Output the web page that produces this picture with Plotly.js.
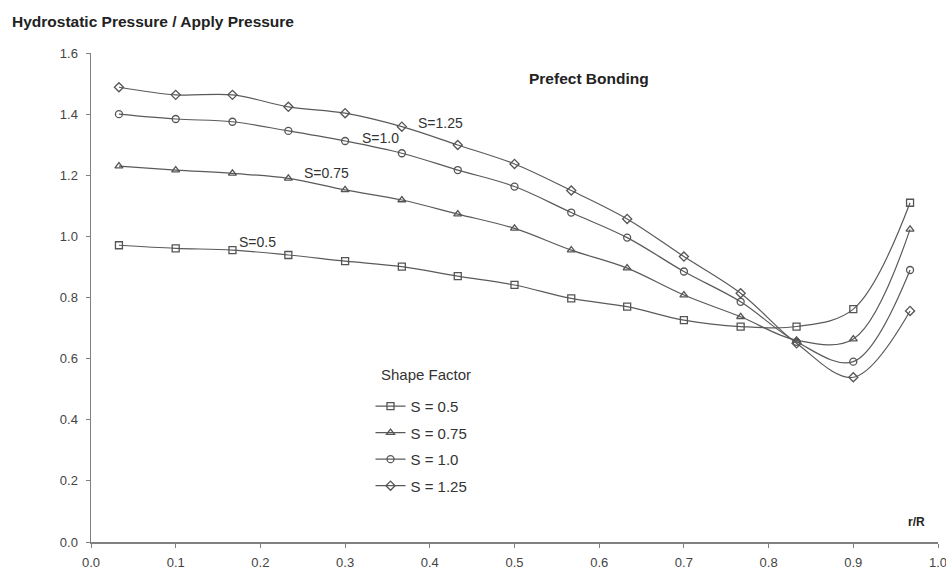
<!DOCTYPE html>
<html>
<head>
<meta charset="utf-8">
<script src="https://cdn.plot.ly/plotly-3.0.1.min.js"></script>
<style>html,body{margin:0;padding:0;background:#fff;}#chart{width:946px;height:571px;}</style>
</head>
<body>
<div id="chart"></div>
<script>
// r/R positions
const rR = [0.033, 0.1, 0.167, 0.233, 0.3, 0.367, 0.433, 0.5, 0.567, 0.633, 0.7, 0.767, 0.833, 0.9, 0.967];
// Hydrostatic Pressure / Apply Pressure, per shape factor
const s050 = [0.971, 0.961, 0.955, 0.939, 0.919, 0.901, 0.870, 0.841, 0.797, 0.770, 0.726, 0.705, 0.705, 0.762, 1.110];
const s075 = [1.230, 1.217, 1.206, 1.190, 1.152, 1.119, 1.073, 1.026, 0.955, 0.896, 0.808, 0.737, 0.660, 0.664, 1.023];
const s100 = [1.400, 1.384, 1.375, 1.345, 1.312, 1.272, 1.217, 1.163, 1.078, 0.996, 0.885, 0.786, 0.655, 0.590, 0.890];
const s125 = [1.488, 1.463, 1.463, 1.424, 1.403, 1.359, 1.299, 1.237, 1.150, 1.057, 0.934, 0.814, 0.650, 0.539, 0.756];

const seriesNames = ['S = 0.5', 'S = 0.75', 'S = 1.0', 'S = 1.25'];
const seriesValues = [s050, s075, s100, s125];
const seriesSymbols = ['square-open', 'triangle-up-open', 'circle-open', 'diamond-open'];

const curveLabels = ['S=0.5', 'S=0.75', 'S=1.0', 'S=1.25'];
const curveLabelX = [0.197, 0.278, 0.342, 0.413];
const curveLabelY = [0.982, 1.207, 1.322, 1.371];

const lineColor = '#5a5a5a';
const font = 'Liberation Sans, Arial, sans-serif';

const traces = seriesValues.map((vals, i) => ({
  x: rR, y: vals, name: seriesNames[i], type: 'scatter', mode: 'lines+markers',
  legendgroup: 'g' + i,
  line: {color: lineColor, width: 1.2, shape: 'spline', smoothing: 1},
  marker: {symbol: seriesSymbols[i], size: 7, color: '#555', line: {color: '#555', width: 1.3}}
}));

const annotations = curveLabels.map((t, i) => ({
  x: curveLabelX[i], y: curveLabelY[i], xref: 'x', yref: 'y', text: t, showarrow: false,
  font: {family: font, size: 14, color: '#333'}, xanchor: 'center', yanchor: 'middle'
}));
annotations.push({
  x: -0.0956, y: 1.0654, xref: 'paper', yref: 'paper', text: '<b>Hydrostatic Pressure / Apply Pressure</b>',
  showarrow: false, xanchor: 'left', yanchor: 'middle', font: {family: font, size: 15.5, color: '#222'}
});
annotations.push({
  x: 0.588, y: 1.515, xref: 'x', yref: 'y', text: '<b>Prefect Bonding</b>',
  showarrow: false, xanchor: 'center', yanchor: 'middle', font: {family: font, size: 15.5, color: '#222'}
});
annotations.push({
  x: 0.975, y: 0.065, xref: 'x', yref: 'y', text: '<b>r/R</b>',
  showarrow: false, xanchor: 'center', yanchor: 'middle', font: {family: font, size: 12, color: '#222'}
});
annotations.push({
  x: 0.396, y: 0.548, xref: 'x', yref: 'y', text: 'Shape Factor',
  showarrow: false, xanchor: 'center', yanchor: 'middle', font: {family: font, size: 15, color: '#333'}
});

const layout = {
  width: 946, height: 571,
  margin: {l: 91, r: 8, t: 53, b: 29},
  paper_bgcolor: '#fff', plot_bgcolor: '#fff',
  font: {family: font, size: 13, color: '#444'},
  showlegend: true,
  legend: {
    x: 0.33, y: 0.311, xanchor: 'left', yanchor: 'top',
    font: {family: font, size: 15, color: '#333'},
    bgcolor: 'rgba(0,0,0,0)', tracegroupgap: 4, traceorder: 'grouped'
  },
  xaxis: {
    range: [0, 1], dtick: 0.1, tickformat: '.1f', showgrid: false, zeroline: false,
    showline: true, linecolor: '#808080', linewidth: 1.5, ticks: 'outside', ticklen: 4,
    tickcolor: '#808080', tickfont: {family: font, size: 13, color: '#444'}, ticklabelstandoff: 4,
    ticklabeloverflow: 'allow'
  },
  yaxis: {
    range: [0, 1.6], dtick: 0.2, tickformat: '.1f', showgrid: false, zeroline: false,
    showline: true, linecolor: '#808080', linewidth: 1.5, ticks: 'outside', ticklen: 4,
    tickcolor: '#808080', tickfont: {family: font, size: 13, color: '#444'}, ticklabelstandoff: 5
  },
  annotations: annotations
};

Plotly.newPlot('chart', traces, layout, {displayModeBar: false, staticPlot: true});
</script>
</body>
</html>
